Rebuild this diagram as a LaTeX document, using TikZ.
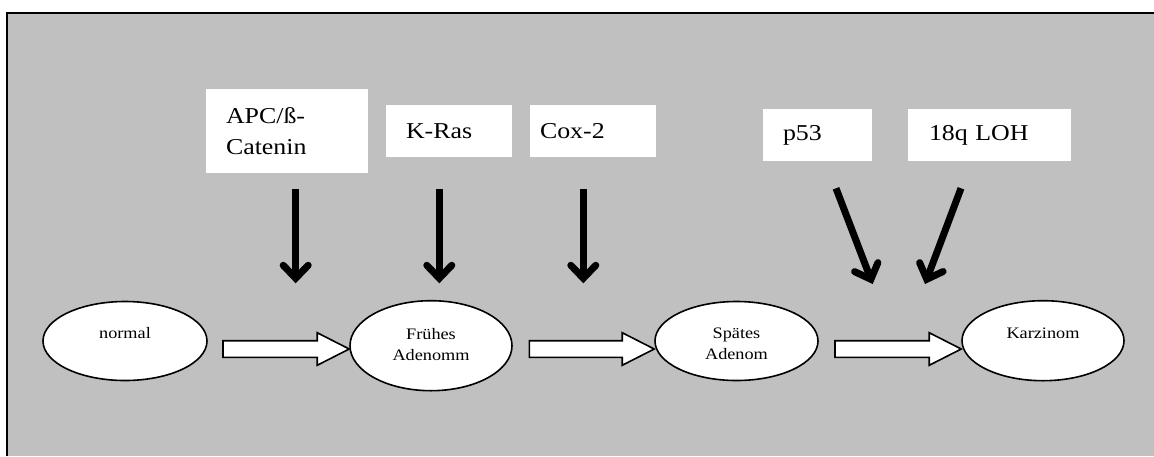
\documentclass[tikz,border=0pt]{standalone}
\usepackage{fontspec}
\setmainfont{Liberation Serif}
\newfontfamily\wordfont[FakeStretch=1.14]{Liberation Serif}
\usetikzlibrary{arrows.meta,shapes.geometric,calc}
\definecolor{bggray}{RGB}{192,192,192}
\tikzset{
  genebox/.style={fill=white, inner ysep=0pt, align=left, anchor=center,
    font=\wordfont\fontsize{22.7}{31}\selectfont},
  stage/.style={ellipse, draw, fill=white, line width=1.6pt, inner sep=0pt},
  stagetext/.style={font=\wordfont\fontsize{16}{21}\selectfont, align=center,
    anchor=base, inner sep=0pt},
  mutarrow/.style={line width=7pt, -{Straight Barb[length=13pt,width=25pt,line cap=round]}},
  blockarrow/.style={draw, fill=white, line width=1.6pt, line join=miter}
}
\newcommand\blockarr[2]{%
  \draw[blockarrow] let \p1=(#1), \p2=(#2) in
    (\x1,\y2-8.3pt) -- (\x2-32pt,\y2-8.3pt) -- (\x2-32pt,\y2-16.3pt) --
    (\x2,\y2) -- (\x2-32pt,\y2+16.3pt) -- (\x2-32pt,\y2+8.3pt) --
    (\x1,\y2+8.3pt) -- cycle;}
\begin{document}
\begin{tikzpicture}[x=1pt,y=-1pt]
\useasboundingbox (0,0) rectangle (1154,456);
\fill[white] (0,0) rectangle (1154,456);
\fill[bggray] (7,13) rectangle (1154,456);
\draw[line width=2pt] (7,456) -- (7,13) -- (1154,13);

% gene boxes
\node[genebox, text width=122pt, inner xsep=20pt, minimum height=84pt] (apc) at (287,131) {APC/ß-\\Catenin};
\node[genebox, text width=86pt, inner xsep=20pt, minimum height=52pt] (kras) at (449,131) {K-Ras};
\node[genebox, text width=106pt, inner xsep=10pt, minimum height=52pt] (cox) at (593,131) {Cox-2};
\node[genebox, text width=69pt, inner xsep=20pt, minimum height=52pt] (p53) at (817.5,135) {p53};
\node[genebox, text width=121pt, inner xsep=21pt, minimum height=52pt] (loh) at (989.5,135) {18q LOH};

% stages
\node[stage, minimum width=164pt, minimum height=79pt] (n0) at (125,341) {};
\node[stage, minimum width=162pt, minimum height=90pt] (n1) at (431,345.7) {};
\node[stage, minimum width=163pt, minimum height=79pt] (n2) at (736.5,341) {};
\node[stage, minimum width=162pt, minimum height=80pt] (n3) at (1043,340.7) {};
\node[stagetext] (t0) at (125,338.3) {normal};
\node[stagetext] (t1) at (431,360) {Frühes\\Adenomm};
\node[stagetext] (t2) at (736.5,359.3) {Spätes\\Adenom};
\node[stagetext] (t3) at (1043,338.3) {Karzinom};

% block arrows
\coordinate (b1s) at (223,349);
\coordinate (b2s) at (529.3,349);
\coordinate (b3s) at (835,349);
\coordinate (b1e) at (n1.west |- b1s);
\coordinate (b2e) at (n2.west |- b2s);
\coordinate (b3e) at (n3.west |- b3s);
\blockarr{b1s}{b1e}
\blockarr{b2s}{b2e}
\blockarr{b3s}{b3e}

% mutation arrows
\coordinate (m1s) at (295.7,189);   \coordinate (m1e) at (295.7,283.3);
\coordinate (m2s) at (439.3,189);   \coordinate (m2e) at (439.3,283.3);
\coordinate (m3s) at (583.3,189);   \coordinate (m3e) at (583.3,283.3);
\coordinate (m4s) at (836,188.3);   \coordinate (m4e) at (872.7,284);
\coordinate (m5s) at (961,188.3);   \coordinate (m5e) at (925,284);
\foreach \i in {1,...,5} \draw[mutarrow] (m\i s) -- (m\i e);
\end{tikzpicture}
\end{document}
